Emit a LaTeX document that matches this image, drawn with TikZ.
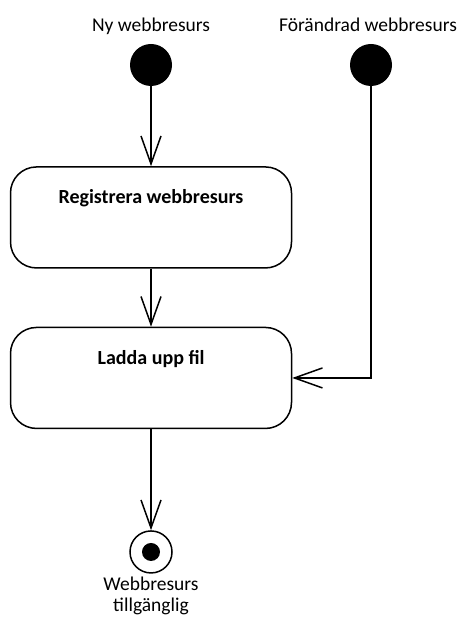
\documentclass[tikz,border=0pt]{standalone}
\usepackage{fontspec}
\setmainfont{Carlito}
\usetikzlibrary{shapes.geometric, arrows.meta, positioning, calc}

\begin{document}
\begin{tikzpicture}[
    x=1pt, y=-1pt,
    node distance=20pt,
    caption/.style={font=\fontsize{19.5}{21}\selectfont, text depth=3.5pt, align=center},
    startdot/.style={circle, fill=black, minimum size=42pt, inner sep=0pt},
    activity/.style={rectangle, rounded corners=26pt, draw, line width=1.5pt, minimum width=281pt, text height=13pt, text depth=40pt, inner ysep=24pt, font=\fontsize{20}{23}\selectfont\bfseries},
    endring/.style={circle, draw, line width=1.5pt, minimum size=42pt, inner sep=0pt},
    flow/.style={-{Straight Barb[length=28pt, width=20pt]}, line width=1.5pt}
]
\useasboundingbox (0,0) rectangle (458,617);

\node[startdot] (ny) at (151,65) {};
\node[startdot] (forandrad) at (371,65) {};
\node[caption, above=5pt of ny] (nylabel) {Ny webbresurs};
\node[caption, above=5pt of forandrad, xshift=-3pt] (forandradlabel) {Förändrad webbresurs};
\node[activity, below=80pt of ny] (registrera) {Registrera webbresurs};
\node[activity, below=58pt of registrera] (ladda) {Ladda upp fil};
\node[endring, below=101pt of ladda] (slut) {};
\node[circle, fill=black, minimum size=18pt, inner sep=0pt] (slutdot) at (slut) {};
\node[caption, below=0pt of slut, text depth=0pt] (slutlabel) {Webbresurs\\tillgänglig};

\draw[flow] (ny) -- (registrera);
\draw[flow] (registrera) -- (ladda);
\draw[flow] (forandrad) |- (ladda);
\draw[flow] (ladda) -- (slut);

\end{tikzpicture}
\end{document}
